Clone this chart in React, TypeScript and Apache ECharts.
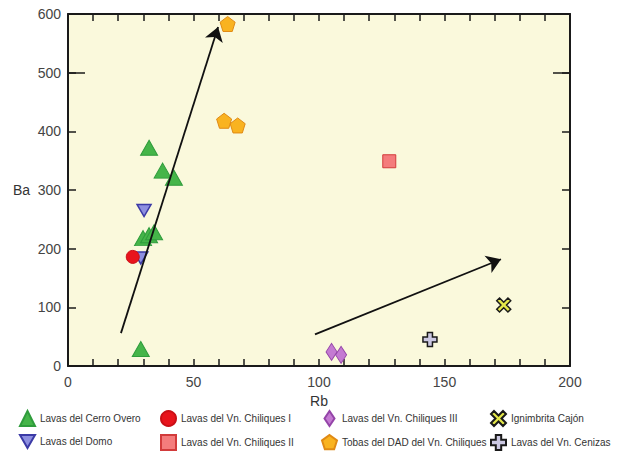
import React, { useEffect, useRef } from "react";
import * as echarts from "echarts";

// Rb (x) vs Ba (y) for each rock group
const cerroOvero: [number, number][] = [
  [32.3, 372], [37.7, 333], [42.2, 321], [29.9, 218], [32.3, 223], [34.3, 228], [29, 29],
];
const domo: [number, number][] = [[30.3, 265], [29, 184]];
const chiliquesI: [number, number][] = [[25.8, 186]];
const chiliquesII: [number, number][] = [[128, 349]];
const chiliquesIII: [number, number][] = [[105, 24], [108.8, 19]];
const tobasDAD: [number, number][] = [[63.6, 583], [62.2, 418], [67.6, 410]];
const ignimbrita: [number, number][] = [[173.6, 104]];
const cenizas: [number, number][] = [[144.2, 45]];

// Trend arrows: [start, end] in Rb/Ba units
const trendArrows: [number, number][][] = [
  [[21.1, 56], [59.8, 578]],
  [[98.4, 54], [172.5, 182]],
];

const xTicks = { min: 0, max: 200, interval: 50 };
const yTicks = { min: 0, max: 600, interval: 100 };

const PENTAGON = "path://M0,-10 L9.51,-3.09 L5.88,8.09 L-5.88,8.09 L-9.51,-3.09 Z";
const SALTIRE = "path://M2,0 L5,3 L8,0 L10,2 L7,5 L10,8 L8,10 L5,7 L2,10 L0,8 L3,5 L0,2 Z";
const PLUS = "path://M3.2,0 H6.8 V3.2 H10 V6.8 H6.8 V10 H3.2 V6.8 H0 V3.2 H3.2 Z";
const DOWN_TRI = "path://M0,0 L10,0 L5,8.7 Z";
const TALL_DIAMOND = "path://M6,0 L12,9 L6,18 L0,9 Z";

const FONT = "Arial, 'Liberation Sans', sans-serif";
const AXIS_COLOR = "#1a1a1a";

export default function App() {
  const ref = useRef<HTMLDivElement>(null);

  useEffect(() => {
    if (!ref.current) return;
    const chart = echarts.init(ref.current, undefined, { renderer: "svg" });

    const scatter = (
      name: string,
      data: [number, number][],
      symbol: string,
      symbolSize: number | number[],
      fill: string,
      stroke: string,
      borderWidth = 1
    ) => ({
      name,
      type: "scatter",
      data,
      symbol,
      symbolSize,
      itemStyle: { color: fill, borderColor: stroke, borderWidth, opacity: 1 },
      z: 3,
    });

    const legendCol = (left: number, names: string[]) => ({
      orient: "vertical",
      left,
      top: 410,
      width: 160,
      height: 60,
      padding: 0,
      itemWidth: 15,
      itemHeight: 15,
      itemGap: 7,
      symbolKeepAspect: true,
      selectedMode: false,
      data: names,
      textStyle: { fontFamily: FONT, fontSize: 10, color: "#333" },
    });

    const frameAxisLine = { show: true, onZero: false, lineStyle: { color: AXIS_COLOR, width: 2 } };

    const option: any = {
      animation: false,
      backgroundColor: "#ffffff",
      grid: {
        left: 68,
        right: 52,
        top: 14,
        bottom: 86,
        show: true,
        backgroundColor: "#faf9dc",
        borderWidth: 0,
      },
      legend: [
        legendCol(19, ["Lavas del Cerro Overo", "Lavas del Domo"]),
        legendCol(160, ["Lavas del Vn. Chiliques I", "Lavas del Vn. Chiliques II"]),
        legendCol(321, ["Lavas del Vn. Chiliques III", "Tobas del DAD del Vn. Chiliques"]),
        legendCol(490, ["Ignimbrita Cajón", "Lavas del Vn. Cenizas"]),
      ],
      xAxis: [
        {
          type: "value",
          position: "bottom",
          ...xTicks,
          name: "Rb",
          nameLocation: "middle",
          nameGap: 26,
          nameTextStyle: { fontFamily: FONT, fontSize: 14, color: "#333" },
          axisLine: frameAxisLine,
          axisTick: { show: true, inside: true, length: 7, lineStyle: { color: AXIS_COLOR, width: 1.5 } },
          minorTick: { show: true, splitNumber: 5, length: 7, lineStyle: { color: AXIS_COLOR, width: 1.5 } },
          axisLabel: { fontFamily: FONT, fontSize: 14, color: "#444", margin: 9 },
          splitLine: { show: false },
        },
        {
          type: "value",
          position: "top",
          ...xTicks,
          axisLine: frameAxisLine,
          axisTick: { show: true, inside: true, length: 7, lineStyle: { color: AXIS_COLOR, width: 1.5 } },
          minorTick: { show: true, splitNumber: 5, length: 7, lineStyle: { color: AXIS_COLOR, width: 1.5 } },
          axisLabel: { show: false },
          splitLine: { show: false },
        },
      ],
      yAxis: [
        {
          type: "value",
          position: "left",
          ...yTicks,
          name: "Ba",
          nameLocation: "middle",
          nameRotate: 0,
          nameGap: 38,
          nameTextStyle: { fontFamily: FONT, fontSize: 14, color: "#333" },
          axisLine: frameAxisLine,
          axisTick: { show: true, inside: true, length: 8, lineStyle: { color: AXIS_COLOR, width: 1.5 } },
          axisLabel: { fontFamily: FONT, fontSize: 14, color: "#444", margin: 7 },
          splitLine: { show: false },
        },
        {
          type: "value",
          position: "right",
          ...yTicks,
          axisLine: frameAxisLine,
          axisTick: { show: true, inside: true, length: 8, lineStyle: { color: AXIS_COLOR, width: 1.5 } },
          axisLabel: { show: false },
          splitLine: { show: false },
        },
        // longer tick marks at 500 on both sides
        {
          type: "value",
          position: "left",
          min: 0,
          max: 600,
          interval: 500,
          axisLine: { show: false, onZero: false },
          axisTick: { show: true, inside: true, length: 17, lineStyle: { color: AXIS_COLOR, width: 1.5 } },
          axisLabel: { show: false },
          splitLine: { show: false },
        },
        {
          type: "value",
          position: "right",
          min: 0,
          max: 600,
          interval: 500,
          axisLine: { show: false, onZero: false },
          axisTick: { show: true, inside: true, length: 17, lineStyle: { color: AXIS_COLOR, width: 1.5 } },
          axisLabel: { show: false },
          splitLine: { show: false },
        },
      ],
      series: [
        {
          type: "lines",
          coordinateSystem: "cartesian2d",
          polyline: false,
          silent: true,
          symbol: ["none", "arrow"],
          symbolSize: 14,
          lineStyle: { color: "#111", width: 1.8, opacity: 1 },
          data: trendArrows.map((coords) => ({ coords })),
          z: 4,
        },
        scatter("Lavas del Cerro Overo", cerroOvero, "triangle", [17, 15], "#45b549", "#2f9c3c"),
        scatter("Lavas del Domo", domo, DOWN_TRI, [14, 12], "#8d8fe0", "#3b3aa6", 1.5),
        scatter("Lavas del Vn. Chiliques I", chiliquesI, "circle", 13, "#e8141c", "#c90f16"),
        scatter("Lavas del Vn. Chiliques II", chiliquesII, "rect", 13, "#f47c7c", "#d23b3b"),
        scatter("Lavas del Vn. Chiliques III", chiliquesIII, TALL_DIAMOND, [11, 17], "#c47ad2", "#9444a8"),
        scatter("Tobas del DAD del Vn. Chiliques", tobasDAD, PENTAGON, 15, "#f9b320", "#e08a14"),
        scatter("Ignimbrita Cajón", ignimbrita, SALTIRE, 14, "#e4e84a", "#1a1a1a", 1.5),
        scatter("Lavas del Vn. Cenizas", cenizas, PLUS, 14, "#cbc8e2", "#1a1a1a", 1.5),
      ],
    };

    chart.setOption(option);
    return () => chart.dispose();
  }, []);

  return <div ref={ref} style={{ width: 622, height: 452, position: "absolute", left: 0, top: 0 }} />;
}
